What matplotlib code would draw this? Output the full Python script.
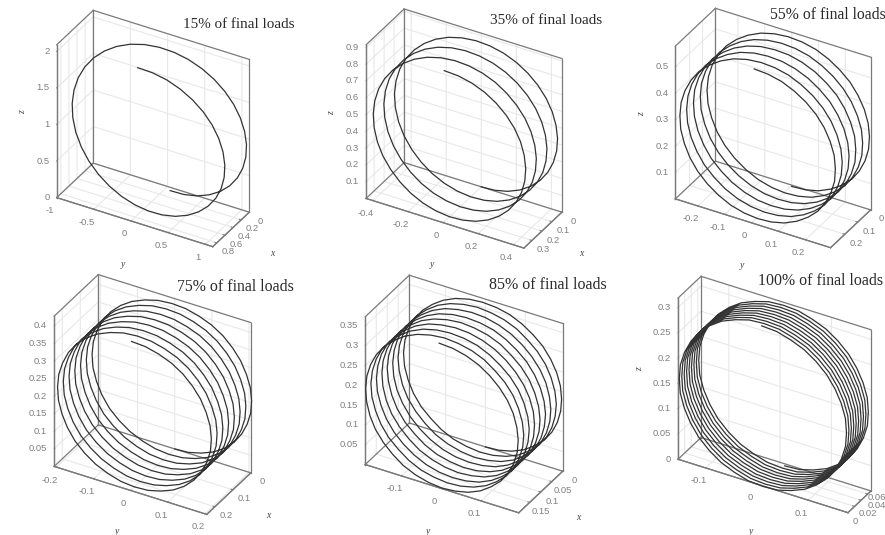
import numpy as np
import matplotlib
matplotlib.use("Agg")
import matplotlib.pyplot as plt
from matplotlib.transforms import IdentityTransform
from mpl_toolkits.mplot3d import proj3d

FIG_W, FIG_H = 885, 535

titles = ["15% of final loads", "35% of final loads", "55% of final loads",
          "75% of final loads", "85% of final loads", "100% of final loads"]

## one turn of each helix (y, z), start at the top
y_turn_15 = [.035, .226, .411, .585, .742, .878, .988, 1.069, 1.118, 1.135, 1.118, 1.069, .988, .878, .742, .585, .411, .226,
             .035, -.156, -.341, -.515, -.672, -.808, -.918, -.999, -1.048, -1.065, -1.048, -.999, -.918, -.808, -.672, -.515, -.341, -.156]
z_turn_15 = [2.055, 2.039, 1.992, 1.914, 1.809, 1.68, 1.53, 1.364, 1.188, 1.005, .822, .646, .48, .33, .201, .096, .018, -.029,
             -.045, -.029, .018, .096, .201, .33, .48, .646, .822, 1.005, 1.188, 1.364, 1.53, 1.68, 1.809, 1.914, 1.992, 2.039]
y_turn_35 = [0, .078, .154, .225, .289, .345, .390, .423, .443, .45, .443, .423, .390, .345, .289, .225, .154, .078,
             0, -.078, -.154, -.225, -.289, -.345, -.390, -.423, -.443, -.45, -.443, -.423, -.390, -.345, -.289, -.225, -.154, -.078]
z_turn_35 = [.9, .893, .873, .840, .795, .739, .675, .604, .528, .45, .372, .296, .225, .161, .105, .060, .027, .007,
             0, .007, .027, .060, .105, .161, .225, .296, .372, .45, .528, .604, .675, .739, .795, .840, .873, .893]
y_turn_55 = [0, .051, .101, .148, .190, .227, .256, .278, .292, .296, .292, .278, .256, .227, .190, .148, .101, .051,
             0, -.051, -.101, -.148, -.190, -.227, -.256, -.278, -.292, -.296, -.292, -.278, -.256, -.227, -.190, -.148, -.101, -.051]
z_turn_55 = [.573, .569, .556, .534, .505, .470, .429, .383, .334, .284, .234, .185, .139, .098, .063, .034, .012, -.001,
             -.005, -.001, .012, .034, .063, .098, .139, .185, .234, .284, .334, .383, .429, .470, .505, .534, .556, .569]
y_turn_75 = [0, .037, .072, .106, .136, .162, .183, .198, .208, .211, .208, .198, .183, .162, .136, .106, .072, .037,
             0, -.037, -.072, -.106, -.136, -.162, -.183, -.198, -.208, -.211, -.208, -.198, -.183, -.162, -.136, -.106, -.072, -.037]
z_turn_75 = [.422, .419, .409, .394, .373, .347, .317, .283, .248, .211, .174, .139, .106, .075, .049, .028, .013, .003,
             0, .003, .013, .028, .049, .075, .106, .139, .174, .211, .248, .283, .317, .347, .373, .394, .409, .419]
y_turn_85 = [0, .034, .067, .098, .125, .149, .169, .183, .192, .195, .192, .183, .169, .149, .125, .098, .067, .034,
             0, -.034, -.067, -.098, -.125, -.149, -.169, -.183, -.192, -.195, -.192, -.183, -.169, -.149, -.125, -.098, -.067, -.034]
z_turn_85 = [.372, .369, .361, .347, .328, .306, .279, .250, .218, .186, .154, .122, .093, .066, .044, .025, .011, .003,
             0, .003, .011, .025, .044, .066, .093, .122, .154, .186, .218, .250, .279, .306, .328, .347, .361, .369]
y_turn_100 = [.009, .038, .065, .091, .114, .135, .151, .163, .171, .173, .171, .163, .151, .135, .114, .091, .065, .038,
              .009, -.020, -.047, -.073, -.096, -.117, -.133, -.145, -.153, -.155, -.153, -.145, -.133, -.117, -.096, -.073, -.047, -.020]
z_turn_100 = [.316, .314, .306, .295, .279, .259, .236, .211, .184, .156, .128, .101, .076, .053, .033, .017, .006, -.002,
              -.004, -.002, .006, .017, .033, .053, .076, .101, .128, .156, .184, .211, .236, .259, .279, .295, .306, .314]

## whole turns before the last half turn
full_turns = [1, 3, 5, 7, 8, 9]

## position along the axis of the helix
x_15 = [.800, .785, .770, .756, .741, .726, .711, .696, .681, .667, .652, .637, .622, .607, .593, .578, .563, .548, .533,
        .519, .504, .489, .474, .459, .444, .430, .415, .400, .385, .370, .356, .341, .326, .311, .296, .281, .267, .252,
        .237, .222, .207, .193, .178, .163, .148, .133, .119, .104, .089, .074, .059, .044, .030, .015, 0]
x_35 = [.370, .367, .364, .361, .358, .355, .352, .349, .347, .344,
        .341, .338, .335, .332, .329, .326, .323, .320, .317, .314,
        .311, .308, .305, .302, .300, .297, .294, .291, .288, .285,
        .282, .279, .276, .273, .270, .267, .264, .261, .258, .255,
        .253, .250, .247, .244, .241, .238, .235, .232, .229, .226,
        .223, .220, .217, .214, .211, .208, .206, .203, .200, .197,
        .194, .191, .188, .185, .182, .179, .176, .173, .170, .167,
        .164, .161, .159, .156, .153, .150, .147, .144, .141, .138,
        .135, .132, .129, .126, .123, .120, .117, .114, .112, .109,
        .106, .103, .100, .097, .094, .091, .088, .085, .082, .079,
        .076, .073, .070, .067, .065, .062, .059, .056, .053, .050,
        .047, .044, .041, .038, .035, .032, .029, .026, .023, .021,
        .018, .015, .012, .009, .006, .003, 0]
x_55 = [.290, .289, .287, .286, .284, .283, .281, .280, .278, .277,
        .275, .274, .272, .271, .269, .268, .267, .265, .264, .262,
        .261, .259, .258, .256, .255, .253, .252, .250, .249, .248,
        .246, .245, .243, .242, .240, .239, .237, .236, .234, .233,
        .231, .230, .228, .227, .226, .224, .223, .221, .220, .218,
        .217, .215, .214, .212, .211, .209, .208, .207, .205, .204,
        .202, .201, .199, .198, .196, .195, .193, .192, .190, .189,
        .187, .186, .185, .183, .182, .180, .179, .177, .176, .174,
        .173, .171, .170, .168, .167, .165, .164, .163, .161, .160,
        .158, .157, .155, .154, .152, .151, .149, .148, .146, .145,
        .144, .142, .141, .139, .138, .136, .135, .133, .132, .130,
        .129, .127, .126, .124, .123, .122, .120, .119, .117, .116,
        .114, .113, .111, .110, .108, .107, .105, .104, .102, .101,
        .100, .098, .097, .095, .094, .092, .091, .089, .088, .086,
        .085, .083, .082, .081, .079, .078, .076, .075, .073, .072,
        .070, .069, .067, .066, .064, .063, .062, .060, .059, .057,
        .056, .054, .053, .051, .050, .048, .047, .045, .044, .042,
        .041, .040, .038, .037, .035, .034, .032, .031, .029, .028,
        .026, .025, .023, .022, .021, .019, .018, .016, .015, .013,
        .012, .010, .009, .007, .006, .004, .003, .001, 0]
x_75 = [.240, .239, .238, .237, .236, .236, .235, .234, .233, .232,
        .231, .230, .229, .228, .228, .227, .226, .225, .224, .223,
        .222, .221, .220, .220, .219, .218, .217, .216, .215, .214,
        .213, .212, .212, .211, .210, .209, .208, .207, .206, .205,
        .204, .204, .203, .202, .201, .200, .199, .198, .197, .196,
        .196, .195, .194, .193, .192, .191, .190, .189, .188, .188,
        .187, .186, .185, .184, .183, .182, .181, .180, .180, .179,
        .178, .177, .176, .175, .174, .173, .172, .172, .171, .170,
        .169, .168, .167, .166, .165, .164, .164, .163, .162, .161,
        .160, .159, .158, .157, .156, .156, .155, .154, .153, .152,
        .151, .150, .149, .148, .148, .147, .146, .145, .144, .143,
        .142, .141, .140, .140, .139, .138, .137, .136, .135, .134,
        .133, .132, .132, .131, .130, .129, .128, .127, .126, .125,
        .124, .124, .123, .122, .121, .120, .119, .118, .117, .116,
        .116, .115, .114, .113, .112, .111, .110, .109, .108, .108,
        .107, .106, .105, .104, .103, .102, .101, .100, .100, .099,
        .098, .097, .096, .095, .094, .093, .092, .092, .091, .090,
        .089, .088, .087, .086, .085, .084, .084, .083, .082, .081,
        .080, .079, .078, .077, .076, .076, .075, .074, .073, .072,
        .071, .070, .069, .068, .068, .067, .066, .065, .064, .063,
        .062, .061, .060, .060, .059, .058, .057, .056, .055, .054,
        .053, .052, .052, .051, .050, .049, .048, .047, .046, .045,
        .044, .044, .043, .042, .041, .040, .039, .038, .037, .036,
        .036, .035, .034, .033, .032, .031, .030, .029, .028, .028,
        .027, .026, .025, .024, .023, .022, .021, .020, .020, .019,
        .018, .017, .016, .015, .014, .013, .012, .012, .011, .010,
        .009, .008, .007, .006, .005, .004, .004, .003, .002, .001, 0]
x_85 = [.210, .209, .209, .208, .207, .207, .206, .205, .205, .204,
        .203, .203, .202, .201, .200, .200, .199, .198, .198, .197,
        .196, .196, .195, .194, .194, .193, .192, .191, .191, .190,
        .189, .189, .188, .187, .187, .186, .185, .185, .184, .183,
        .183, .182, .181, .181, .180, .179, .178, .178, .177, .176,
        .176, .175, .174, .174, .173, .172, .172, .171, .170, .170,
        .169, .168, .168, .167, .166, .165, .165, .164, .163, .163,
        .162, .161, .161, .160, .159, .159, .158, .157, .156, .156,
        .155, .154, .154, .153, .152, .152, .151, .150, .150, .149,
        .148, .148, .147, .146, .146, .145, .144, .143, .143, .142,
        .141, .141, .140, .139, .139, .138, .137, .137, .136, .135,
        .135, .134, .133, .133, .132, .131, .130, .130, .129, .128,
        .128, .127, .126, .126, .125, .124, .124, .123, .122, .122,
        .121, .120, .120, .119, .118, .117, .117, .116, .115, .115,
        .114, .113, .113, .112, .111, .111, .110, .109, .109, .108,
        .107, .107, .106, .105, .104, .104, .103, .102, .102, .101,
        .100, .100, .099, .098, .098, .097, .096, .096, .095, .094,
        .093, .093, .092, .091, .091, .090, .089, .089, .088, .087,
        .087, .086, .085, .085, .084, .083, .083, .082, .081, .080,
        .080, .079, .078, .078, .077, .076, .076, .075, .074, .074,
        .073, .072, .072, .071, .070, .070, .069, .068, .067, .067,
        .066, .065, .065, .064, .063, .063, .062, .061, .061, .060,
        .059, .059, .058, .057, .057, .056, .055, .054, .054, .053,
        .052, .052, .051, .050, .050, .049, .048, .048, .047, .046,
        .046, .045, .044, .044, .043, .042, .041, .041, .040, .039,
        .039, .038, .037, .037, .036, .035, .035, .034, .033, .033,
        .032, .031, .031, .030, .029, .028, .028, .027, .026, .026,
        .025, .024, .024, .023, .022, .022, .021, .020, .020, .019,
        .018, .017, .017, .016, .015, .015, .014, .013, .013, .012,
        .011, .011, .010, .009, .009, .008, .007, .007, .006, .005,
        .004, .003, .003, .002, .001, .001, 0]
x_100 = [0, .0002, .0004, .0006, .0008, .0010, .0012, .0014, .0016, .0018,
         .0020, .0023, .0025, .0027, .0029, .0031, .0033, .0035, .0037, .0039,
         .0041, .0043, .0045, .0047, .0049, .0051, .0053, .0055, .0057, .0059,
         .0061, .0063, .0065, .0068, .0070, .0072, .0074, .0076, .0078, .0080,
         .0082, .0084, .0086, .0088, .0090, .0092, .0094, .0096, .0098, .0100,
         .0102, .0104, .0106, .0108, .0111, .0113, .0115, .0117, .0119, .0121,
         .0123, .0125, .0127, .0129, .0131, .0133, .0135, .0137, .0139, .0141,
         .0143, .0145, .0147, .0149, .0151, .0154, .0156, .0158, .0160, .0162,
         .0164, .0166, .0168, .0170, .0172, .0174, .0176, .0178, .0180, .0182,
         .0184, .0186, .0188, .0190, .0192, .0194, .0197, .0199, .0201, .0203,
         .0205, .0207, .0209, .0211, .0213, .0215, .0217, .0219, .0221, .0223,
         .0225, .0227, .0229, .0231, .0233, .0235, .0237, .0240, .0242, .0244,
         .0246, .0248, .0250, .0252, .0254, .0256, .0258, .0260, .0262, .0264,
         .0266, .0268, .0270, .0272, .0274, .0276, .0278, .0280, .0283, .0285,
         .0287, .0289, .0291, .0293, .0295, .0297, .0299, .0301, .0303, .0305,
         .0307, .0309, .0311, .0313, .0315, .0317, .0319, .0321, .0323, .0326,
         .0328, .0330, .0332, .0334, .0336, .0338, .0340, .0342, .0344, .0346,
         .0348, .0350, .0352, .0354, .0356, .0358, .0360, .0362, .0364, .0366,
         .0369, .0371, .0373, .0375, .0377, .0379, .0381, .0383, .0385, .0387,
         .0389, .0391, .0393, .0395, .0397, .0399, .0401, .0403, .0405, .0407,
         .0409, .0412, .0414, .0416, .0418, .0420, .0422, .0424, .0426, .0428,
         .0430, .0432, .0434, .0436, .0438, .0440, .0442, .0444, .0446, .0448,
         .0450, .0452, .0455, .0457, .0459, .0461, .0463, .0465, .0467, .0469,
         .0471, .0473, .0475, .0477, .0479, .0481, .0483, .0485, .0487, .0489,
         .0491, .0493, .0495, .0498, .0500, .0502, .0504, .0506, .0508, .0510,
         .0512, .0514, .0516, .0518, .0520, .0522, .0524, .0526, .0528, .0530,
         .0532, .0534, .0536, .0538, .0541, .0543, .0545, .0547, .0549, .0551,
         .0553, .0555, .0557, .0559, .0561, .0563, .0565, .0567, .0569, .0571,
         .0573, .0575, .0577, .0579, .0581, .0584, .0586, .0588, .0590, .0592,
         .0594, .0596, .0598, .0600, .0602, .0604, .0606, .0608, .0610, .0612,
         .0614, .0616, .0618, .0620, .0622, .0624, .0627, .0629, .0631, .0633,
         .0635, .0637, .0639, .0641, .0643, .0645, .0647, .0649, .0651, .0653,
         .0655, .0657, .0659, .0661, .0663, .0665, .0667, .0670, .0672, .0674,
         .0676, .0678, .0680, .0682, .0684, .0686, .0688, .0690, .0692, .0694,
         .0696, .0698, .0700]

x_data = [x_15, x_35, x_55, x_75, x_85, x_100]
y_turns = [y_turn_15, y_turn_35, y_turn_55, y_turn_75, y_turn_85, y_turn_100]
z_turns = [z_turn_15, z_turn_35, z_turn_55, z_turn_75, z_turn_85, z_turn_100]

x_ticks = [[0, .2, .4, .6, .8], [0, .1, .2, .3], [0, .1, .2], [0, .1, .2], [0, .05, .1, .15], [0, .02, .04, .06]]
y_ticks = [[-1, -.5, 0, .5, 1], [-.4, -.2, 0, .2, .4], [-.2, -.1, 0, .1, .2],
           [-.2, -.1, 0, .1, .2], [-.1, 0, .1], [-.1, 0, .1]]
z_ticks = [[0, .5, 1, 1.5, 2], [.1, .2, .3, .4, .5, .6, .7, .8, .9], [.1, .2, .3, .4, .5],
           [.05, .1, .15, .2, .25, .3, .35, .4], [.05, .1, .15, .2, .25, .3, .35],
           [0, .05, .1, .15, .2, .25, .3]]

x_lims = [(0, .9), (0, .38), (0, .31), (0, .245), (0, .2), (.07, 0)]
y_lims = [(-1, 1.1), (-.44, .46), (-.284, .294), (-.206, .205), (-.191, .194), (-.154, .177)]
z_lims = [(0, 2.09), (0, .915), (0, .578), (0, .428), (0, .373), (0, .319)]

## layout in pixels of the picture: box centre, box edge lengths
box_centres = [(153, 128.5), (464, 128.5), (773, 128), (152.5, 394.5), (464, 394), (774.5, 394.5)]
box_sizes = [(73, 180, 182), (76, 182, 183), (80, 179, 182), (88, 176, 179), (88, 177, 176), (46, 196, 192)]
title_spots = [(183, 24), (490, 20), (770, 15), (177, 287), (489, 285), (758, 281)]
title_sizes = [10.9, 11, 11.3, 11.4, 11.5, 11.4]
x_label_spots = [(272, 253), (581, 253), None, (268, 516), (578, 517), None]
y_label_spots = [(123, 265), (432, 265), (742, 266), (117, 531), (428, 531), (751, 531)]
z_label_spots = [(23, 112), (332, 113), (642, 114), None, None, (640, 369)]
last_x_tick_spots = [(855, 521), (868, 514), (877, 506), (877, 497)]

GREY = "#7a7a7a"
TICK_FONT = dict(family="Liberation Sans", fontsize=6.8, color="#808080", va="center")
fig = plt.figure(figsize=(FIG_W / 100, FIG_H / 100), dpi=100)


def px_text(spot, s, **kw):
    fig.text(spot[0] / FIG_W, 1 - spot[1] / FIG_H, s, **kw)


def tick_text(ax, point, s, dx, dy, ha):
    # tick labels sit a fixed number of pixels from the tick, the way the original has them
    xs, ys, _ = proj3d.proj_transform(point[0], point[1], point[2], ax.get_proj())
    px, py = ax.transData.transform((xs, ys))
    fig.text(px + dx, py + dy, s, transform=IdentityTransform(), ha=ha, **TICK_FONT)


for i in range(6):
    cx, cy = box_centres[i]
    w = np.linalg.norm(box_sizes[i]) / 1.029
    rect = [(cx - .5135 * w) / FIG_W, (FIG_H - cy - .5135 * w) / FIG_H, w / FIG_W, w / FIG_H]
    ax = fig.add_axes(rect, projection="3d", proj_type="ortho", facecolor="none")
    ax.computed_zorder = False
    ax.view_init(elev=33, azim=30)
    ax.set_box_aspect(box_sizes[i])

    x_back, x_front = x_lims[i]
    y_left, y_right = y_lims[i]
    z_low, z_top = z_lims[i]

    # the grid at the limits would paint over the box, so the box goes on top of it
    box_edges = [((x_back, x_back), (y_left, y_right), (z_low, z_low)),
                 ((x_back, x_back), (y_left, y_right), (z_top, z_top)),
                 ((x_back, x_back), (y_left, y_left), (z_low, z_top)),
                 ((x_back, x_back), (y_right, y_right), (z_low, z_top)),
                 ((x_back, x_front), (y_left, y_left), (z_low, z_low)),
                 ((x_back, x_front), (y_left, y_left), (z_top, z_top)),
                 ((x_front, x_front), (y_left, y_left), (z_low, z_top)),
                 ((x_front, x_front), (y_left, y_right), (z_low, z_low)),
                 ((x_back, x_front), (y_right, y_right), (z_low, z_low))]
    for ex, ey, ez in box_edges:
        ax.plot(ex, ey, ez, color=GREY, lw=.9, zorder=2)

    y = y_turns[i] * full_turns[i] + y_turns[i][:19]
    z = z_turns[i] * full_turns[i] + z_turns[i][:19]
    ax.plot(x_data[i], y, z, color="#333333", lw=.9, zorder=3)

    ax.set_xlim(*x_lims[i])
    ax.set_ylim(*y_lims[i])
    ax.set_zlim(*z_lims[i])
    ax.set_xticks(x_ticks[i], [""] * len(x_ticks[i]))
    ax.set_yticks(y_ticks[i], [""] * len(y_ticks[i]))
    ax.set_zticks(z_ticks[i], [""] * len(z_ticks[i]))
    ax.zaxis.set_ticks_position("lower")

    for axis in (ax.xaxis, ax.yaxis, ax.zaxis):
        axis.set_pane_color((1, 1, 1, 1))
        axis.pane.set_alpha(None)
        axis.pane.set_facecolor((1, 1, 1, 0))
        axis.pane.set_edgecolor((1, 1, 1, 0))
        axis.line.set_color(GREY)
        axis.line.set_linewidth(.9)
        axis._axinfo["grid"].update(color="#e8e8e8", linewidth=.8)
        axis._axinfo["tick"].update(inward_factor=0, outward_factor=.15, linewidth={True: .7, False: .5})
    for which in ("x", "y", "z"):
        ax.tick_params(axis=which, color=GREY)

    ax.apply_aspect()
    if i == 5:
        for spot, v in zip(last_x_tick_spots, x_ticks[i]):
            px_text(spot, f"{v:g}", ha="center", **TICK_FONT)
    else:
        for v in x_ticks[i]:
            tick_text(ax, (v, y_right, 0), f"{v:g}", 11, -9, "center")
    for v in y_ticks[i]:
        tick_text(ax, (x_front, v, 0), f"{v:g}", -7, -13, "center")
    for v in z_ticks[i]:
        tick_text(ax, (x_front, y_left, v), f"{v:g}", -7, 0, "right")

    px_text(title_spots[i], titles[i], family="Liberation Serif", fontsize=title_sizes[i], color="#2a2a2a",
            ha="left", va="center")
    lab = dict(family="Liberation Serif", style="italic", fontsize=7, color="#444444", ha="center", va="center")
    if x_label_spots[i]:
        px_text(x_label_spots[i], "x", **lab)
    px_text(y_label_spots[i], "y", **lab)
    if z_label_spots[i]:
        px_text(z_label_spots[i], "z", rotation=90, **lab)

fig.savefig("out.png", dpi=100)
